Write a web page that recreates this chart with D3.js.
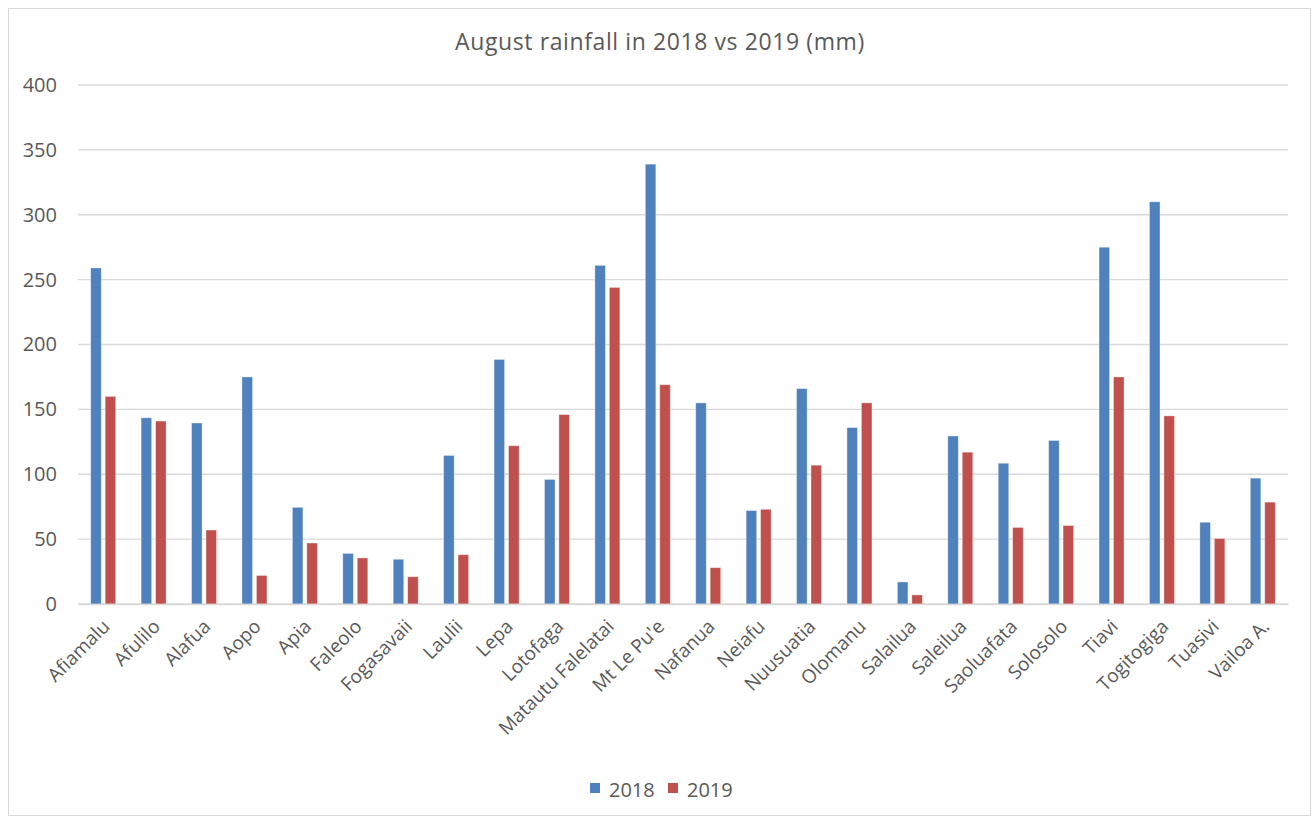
<!DOCTYPE html>
<html>
<head>
<meta charset="utf-8">
<script src="https://cdn.jsdelivr.net/npm/d3@7"></script>
<style>
  body { margin: 0; background: #fff; }
  text { font-family: "Open Sans", Lato, sans-serif; fill: #595959; }
</style>
</head>
<body>
<svg id="chart" width="1312" height="817"></svg>
<script>
// Rainfall stations
const stations = ["Afiamalu", "Afulilo", "Alafua", "Aopo", "Apia", "Faleolo", "Fogasavaii",
  "Laulii", "Lepa", "Lotofaga", "Matautu Falelatai", "Mt Le Pu'e", "Nafanua", "Neiafu",
  "Nuusuatia", "Olomanu", "Salailua", "Saleilua", "Saoluafata", "Solosolo", "Tiavi",
  "Togitogiga", "Tuasivi", "Vailoa A."];

// August totals (mm)
const rain2018 = [259, 143.5, 139.5, 175, 74.5, 39, 34.5, 114.5, 188.5, 96, 261, 339, 155, 72,
  166, 136, 17, 129.5, 108.5, 126, 275, 310, 63, 97];
const rain2019 = [160, 141, 57, 22, 47, 35.5, 21, 38, 122, 146, 244, 169, 28, 73,
  107, 155, 7, 117, 59, 60.5, 175, 145, 50.5, 78.5];

const seriesNames = ["2018", "2019"];
const seriesColors = ["#4F81BD", "#C0504D"];
const yTicks = [0, 50, 100, 150, 200, 250, 300, 350, 400];

const svg = d3.select("#chart");
const W = 1312, H = 817;
const FONT = "'Open Sans', Lato, sans-serif";

// outer chart frame
svg.append("rect")
  .attr("x", 8.5).attr("y", 8.5)
  .attr("width", W - 10).attr("height", H - 10)
  .attr("fill", "#fff").attr("stroke", "#d9d9d9").attr("stroke-width", 1);

const plot = { left: 78, right: 1288, top: 85, bottom: 604 };

const x = d3.scaleBand().domain(stations).range([plot.left, plot.right]).paddingInner(0).paddingOuter(0);
const xSeries = d3.scaleBand().domain(seriesNames).range([0, x.bandwidth()]).paddingInner(0.27).paddingOuter(0.88);
const y = d3.scaleLinear().domain([0, 400]).range([plot.bottom, plot.top]);

// horizontal gridlines
svg.append("g").selectAll("line").data(yTicks).join("line")
  .attr("x1", plot.left).attr("x2", plot.right)
  .attr("y1", d => y(d)).attr("y2", d => y(d))
  .attr("stroke", "#d9d9d9").attr("stroke-width", 1.3);

// y axis labels
const yAxis = d3.axisLeft(y).tickValues(yTicks).tickSize(0).tickPadding(21);
const gy = svg.append("g").attr("transform", `translate(${plot.left},0)`).call(yAxis);
gy.select(".domain").remove();
gy.selectAll("text").style("font-size", "20px").style("fill", "#595959")
  .style("font-family", FONT);

// bars
const rows = stations.map((s, i) => ({ station: s, values: [rain2018[i], rain2019[i]] }));
const groups = svg.append("g").selectAll("g").data(rows).join("g")
  .attr("transform", d => `translate(${x(d.station)},0)`);
groups.selectAll("rect").data(d => d.values.map((v, k) => ({ key: seriesNames[k], v, k })))
  .join("rect")
  .attr("x", d => xSeries(d.key))
  .attr("width", xSeries.bandwidth())
  .attr("y", d => y(d.v))
  .attr("height", d => y(0) - y(d.v))
  .attr("fill", d => seriesColors[d.k])
  .attr("stroke", "#fff").attr("stroke-opacity", 0.45).attr("stroke-width", 0.8);

// category axis
const xAxis = d3.axisBottom(x).tickSize(0).tickPadding(0);
const gx = svg.append("g").attr("transform", `translate(0,${plot.bottom})`).call(xAxis);
gx.select(".domain").attr("stroke", "#d9d9d9").attr("stroke-width", 1.3);
gx.selectAll("text")
  .style("font-size", "19px").style("fill", "#595959")
  .style("font-family", FONT)
  .attr("text-anchor", "end")
  .attr("dy", "0.35em")
  .attr("transform", "translate(3,19) rotate(-45)");

// title
svg.append("text")
  .attr("x", 660).attr("y", 50)
  .attr("text-anchor", "middle")
  .style("font-size", "23px")
  .style("letter-spacing", "0.6px")
  .text("August rainfall in 2018 vs 2019 (mm)");

// legend
const legend = svg.append("g").attr("transform", "translate(590,790)");
const li = legend.selectAll("g").data(seriesNames).join("g")
  .attr("transform", (d, i) => `translate(${i * 78},0)`);
li.append("rect").attr("x", 0).attr("y", -7).attr("width", 10).attr("height", 10)
  .attr("fill", (d, i) => seriesColors[i]);
li.append("text").attr("x", 19).attr("y", 0).attr("dy", "0.35em")
  .style("font-size", "20px").text(d => d);
</script>
</body>
</html>
